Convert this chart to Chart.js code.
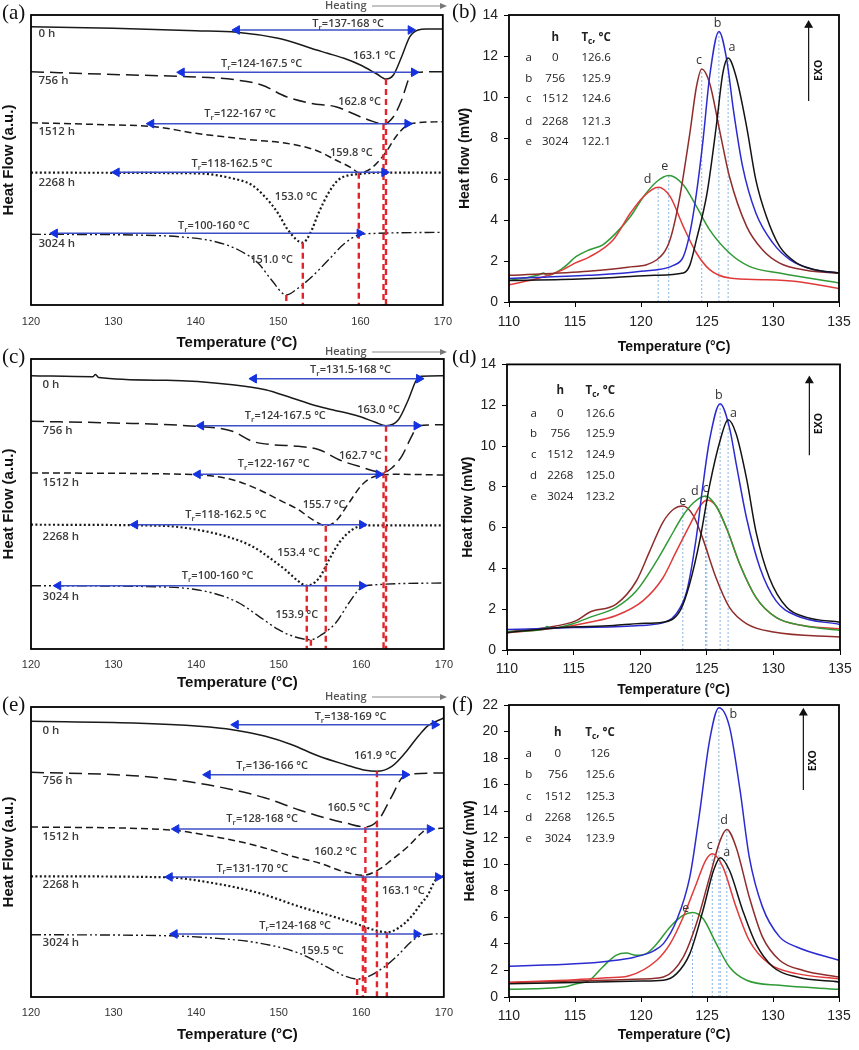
<!DOCTYPE html>
<html>
<head>
<meta charset="utf-8">
<script src="https://cdn.jsdelivr.net/npm/chart.js@4/dist/chart.umd.min.js"></script>
<style>
  html, body { margin: 0; padding: 0; background: #fff; }
  #wrap { position: relative; width: 859px; height: 1050px; overflow: hidden; }
  canvas { position: absolute; }
</style>
</head>
<body>
<div id="wrap">
  <canvas id="pa"></canvas>
  <canvas id="pc"></canvas>
  <canvas id="pe"></canvas>
  <canvas id="pb"></canvas>
  <canvas id="pd"></canvas>
  <canvas id="pf"></canvas>
</div>
<script>
// ── Data ──
const hours = [0, 756, 1512, 2268, 3024];
const letters = ['a', 'b', 'c', 'd', 'e'];
const leftTicksStep = 10;   // 120 .. 170
const rightTicksStep = 5;   // 110 .. 135

// (a) heating curves, heat flow in arbitrary units (offset traces)
const a0h    = [[120,278.3],[130,276.7],[140,274.3],[145,272.7],[150,266.7],[152,262.3],[154,256.7],[156,251.7],[158,246.7],[160,240],[162,231],[163.1,226],[164,230],[165,248.3],[166,268.3],[167,275],[168,276],[170,276]];
const a756h  = [[120,233.3],[130,230.5],[139,228.3],[145,225],[148,220],[151,208.3],[154,201.7],[157,198.3],[159,191.7],[161,185],[162.8,181],[164,188.3],[165,205],[166,228.3],[167,232.7],[170,233.3]];
const a1512h = [[120,182.3],[128,180.5],[135,178.3],[140,171.7],[147,165],[151,161.7],[154.5,155],[157,145],[159,136.7],[159.8,132.3],[161.3,136.7],[163,151.7],[164.3,168.3],[165.7,180],[167,182.3],[170,183.3]];
const a2268h = [[120,132.3],[140,131.7],[144.4,126.7],[146.8,120],[148.4,108.3],[150,91.7],[151.2,75],[153,62.3],[153.9,71.7],[154.9,91.7],[156.1,111.7],[157.3,125],[159.8,131],[163,132.3],[170,132.3]];
const a3024h = [[120,70.7],[132.4,70],[138.8,67.7],[142.4,63.3],[145.2,55],[147.6,41.7],[149.2,25],[151,10],[152.4,16.7],[154.1,28.3],[156.1,45],[158.1,61.7],[159.8,70],[162.2,71.7],[170,72.7]];
const aPeakT = [163.1, 162.8, 159.8, 153.0, 151.0];
const aRange = ['137-168', '124-167.5', '122-167', '118-162.5', '100-160'];

// (c)
const c0h    = [[120,273.3],[127.5,272.3],[127.8,274.5],[128.2,271.5],[136.4,268.7],[144.4,264.3],[148.4,259.3],[151.6,251],[154.1,244.3],[156.5,239.3],[159.7,232.7],[161.7,226.7],[163.0,223.3],[164.5,229.3],[165.7,249.3],[166.7,269.3],[167.3,272.7],[170,273.3]];
const c756h  = [[120,227.7],[130,226],[138.8,223.3],[144.4,217.7],[146.8,207.7],[149.2,204.3],[152.4,202.7],[154.9,199.3],[157.3,189.3],[159.7,182.7],[162.7,176.7],[163.7,181],[164.9,192.7],[166.1,212.7],[166.9,223.3],[170,224.3]];
const c1512h = [[120,176],[138.8,174.7],[144.4,169.3],[147.6,159.3],[150.4,147.7],[152.4,139.3],[154.1,129.3],[155.7,123.3],[156.9,127.7],[158.5,146],[160.1,164.3],[161.7,172.7],[164.5,174.7],[170,174]];
const c2268h = [[120,124.3],[135.6,123.3],[138.8,121],[143.6,112.7],[146.8,102.7],[149.2,89.3],[150.8,79.3],[152.4,67.7],[153.4,63.3],[154.9,71],[156.1,89.3],[157.3,106],[158.9,119.3],[160.5,123.7],[170,123.7]];
const c3024h = [[120,63.3],[136.4,62],[142,56],[145.2,46],[147.6,32.7],[150,19.3],[152,12],[153.9,9.3],[155.2,14.3],[156.9,26],[158.5,46],[159.7,59.3],[160.5,63.3],[170,66]];
const cPeakT = [163.0, 162.7, 155.7, 153.4, 153.9];
const cRange = ['131.5-168', '124-167.5', '122-167', '118-162.5', '100-160'];

// (e)
const e0h    = [[120,275.7],[132.4,274],[140.4,270.7],[144.4,267.3],[148.4,260.7],[151.6,252.3],[154.9,240.7],[158.1,232.3],[160.5,226.7],[161.9,225.7],[163.7,230.7],[165.3,244],[166.9,260.7],[168.1,271.3],[170,279]];
const e756h  = [[120,224.7],[132.4,221.3],[138.8,215.7],[144.4,207.3],[148.4,199],[152.4,187.3],[155.7,179],[158.1,174],[160.5,170],[162.1,177.3],[163.7,200.7],[165.1,220.7],[166.5,223.3],[170,224]];
const e1512h = [[120,170],[136.4,167.3],[142,160.7],[147.6,150.7],[151.6,140.7],[154.9,134],[158.1,124.7],[160.2,121.7],[162.1,127.3],[163.7,137.3],[165.7,150.7],[167.3,164],[168.1,168],[170,168.7]];
const e2268h = [[120,120.7],[136.4,119.7],[142,114],[147.6,104],[152.4,90.7],[156.5,80.7],[159.7,72.3],[161.7,66.7],[163.1,64.7],[164.5,69],[166.1,80.7],[167.3,94],[168,101],[169,117],[170,121]];
const e3024h = [[120,62.3],[136.4,61.3],[142,59],[147.6,54],[152.4,44],[155.7,30.7],[158.1,20.7],[159.5,18],[160.9,20.7],[162.9,30.7],[164.5,42.3],[166.1,55.7],[167.3,61.3],[170,63.5]];
const ePeakT = [161.9, 160.5, 160.2, 163.1, 159.5];
const eRange = ['138-169', '136-166', '128-168', '131-170', '124-168'];

// (b) cooling curves, heat flow in mW
const bA = [[110,1.05],[114,1.1],[118,1.2],[121,1.3],[123.2,1.41],[123.7,1.8],[124.2,3.04],[125,5.3],[125.7,8.56],[126.2,11.16],[126.6,11.9],[127.2,11.0],[128,8.56],[128.7,5.96],[129.5,4.17],[130.5,2.71],[131.8,1.9],[133,1.6],[135,1.41]];
const bB = [[110,1.15],[116,1.3],[120,1.5],[122.5,1.8],[123.2,2.2],[123.7,3.36],[124.2,5.3],[124.7,7.9],[125.2,11.0],[125.9,13.2],[126.5,11.8],[127,9.37],[127.7,6.6],[128.7,4.34],[130,2.87],[131.3,2.06],[133,1.6],[135,1.41]];
const bC = [[110,1.3],[116,1.5],[119,1.7],[121.2,2.06],[122.2,3.04],[122.9,4.99],[123.7,8.23],[124.2,10.5],[124.6,11.37],[125.2,10.67],[126,8.23],[126.7,6.12],[128,3.69],[129.2,2.55],[130.5,1.9],[132.5,1.55],[135,1.4]];
const bD = [[110,0.84],[112.3,1.17],[114.1,1.58],[115,1.9],[116.1,2.2],[117.9,3.04],[119.2,4.34],[120.2,5.15],[121.3,5.6],[122.2,5.15],[123.2,3.69],[124.2,2.39],[125.2,1.58],[126.7,1.17],[129.2,1.09],[131.8,1.0],[135,0.65]];
const bE = [[110,1.05],[112.3,1.33],[112.6,1.42],[112.9,1.3],[114.1,1.66],[115.1,2.22],[116.1,2.55],[117.1,2.79],[118.1,3.36],[119.2,4.17],[120.2,5.15],[121.2,5.88],[122.1,6.17],[123.2,5.72],[124.2,4.66],[125.2,3.52],[126.7,2.39],[128.2,1.74],[130.5,1.41],[135,0.93]];
const bTc = ['126.6', '125.9', '124.6', '121.3', '122.1'];

// (d)
const dA = [[110,0.85],[114,1.1],[118,1.2],[120,1.3],[121.7,1.36],[123,1.93],[123.7,3.21],[124.5,5.46],[125.2,8.03],[126,10.27],[126.6,11.29],[127.2,10.6],[128,8.35],[128.7,5.78],[129.7,3.53],[131,2.09],[132.5,1.6],[135,1.36]];
const dB = [[110,1.0],[115,1.1],[120,1.2],[122,1.4],[122.7,1.77],[123.5,2.89],[124.2,5.46],[124.7,8.03],[125.2,10.27],[126,12.07],[126.7,10.9],[127.2,9.15],[128,6.42],[129,4.01],[130.2,2.41],[131.7,1.69],[135,1.25]];
const dC = [[110,0.9],[112.7,1.0],[113,1.15],[113.3,1.05],[115,1.3],[116.2,1.6],[118.2,2.09],[119.7,2.89],[121.2,4.33],[122.2,5.46],[123.2,6.58],[124,7.22],[124.9,7.55],[125.7,7.06],[126.5,5.94],[127.5,4.17],[128.7,2.57],[130.2,1.6],[132.2,1.2],[135,0.96]];
const dD = [[110,0.85],[114,1.1],[116.2,1.36],[118.2,1.69],[120.2,2.41],[121.7,3.53],[122.7,4.82],[123.7,6.1],[124.5,7.06],[125,7.35],[125.7,7.06],[126.5,5.94],[127.5,4.17],[128.7,2.57],[130.2,1.6],[132.2,1.2],[135,1.04]];
const dE = [[110,0.9],[113,1.1],[115.2,1.44],[116.2,1.85],[118.2,2.25],[119.7,3.37],[120.7,4.82],[121.7,6.26],[122.5,6.9],[123.2,7.06],[124,6.58],[124.7,5.46],[125.7,3.53],[126.7,2.09],[128,1.28],[130,0.88],[135,0.64]];
const dTc = ['126.6', '125.9', '124.9', '125.0', '123.2'];

// (f)
const fA = [[110,1.0],[115,1.1],[120,1.2],[121.7,1.26],[122.7,1.76],[123.7,3.27],[124.7,6.54],[125.5,9.55],[126,10.5],[126.7,9.55],[127.7,6.54],[128.7,4.02],[130,2.26],[131.8,1.5],[135,1.13]];
const fB = [[110,2.31],[115,2.5],[117.5,2.7],[119.5,3.0],[121,3.5],[121.7,4.02],[122.7,5.78],[123.7,9.05],[124.4,13.58],[125.2,19.36],[125.9,21.8],[126.7,20.37],[127.5,15.6],[128.2,10.56],[129.2,6.79],[130.5,4.53],[131.8,3.77],[135,2.77]];
const fC = [[110,1.1],[115,1.3],[117.5,1.45],[119.1,1.6],[121.2,2.77],[122.2,4.0],[123.2,6.03],[124.2,8.55],[124.9,10.3],[125.4,10.8],[126.2,9.8],[127.2,6.79],[128.2,4.27],[129.7,2.51],[131.8,1.76],[135,1.38]];
const fD = [[110,1.1],[115,1.2],[120,1.35],[121.7,1.5],[123.2,3.0],[124.2,5.53],[125.2,9.05],[126,11.8],[126.5,12.62],[127.2,11.3],[128.2,7.54],[129.2,4.53],[130.5,2.77],[132.3,2.0],[135,1.5]];
const fE = [[110,0.58],[114.1,0.75],[115.1,1.0],[116.1,1.26],[117.1,2.26],[118.1,3.14],[118.9,3.32],[119.6,3.14],[120.4,3.27],[121.2,4.02],[122.2,5.28],[123.2,6.16],[123.9,6.36],[124.7,5.91],[125.7,4.02],[126.7,2.26],[128,1.26],[130.5,0.88],[135,0.58]];
const fTc = ['126', '125.6', '125.3', '126.5', '123.9'];

// ── Annotation placement (data units) ──
const aArrow = [[145,166.1,275],[138.3,166.5,232.7],[134.6,165.7,181.3],[130.4,162.9,132.7],[122.9,159.9,71.7]];
const aRangePos = [[158.5,281],[148,240.7],[145.4,191],[144.4,141],[142.2,79]];
const aPeakPos = [[161.7,249],[159.9,203.3],[158.9,151.7],[152.2,108.3],[149.2,45]];
const aNameY = [271.7,224,173,122.3,61];

const cArrow = [[147,167,270.3],[140.6,166.7,223.3],[140.2,162.1,174.7],[132.6,160.1,124.3],[123.3,160.1,63.3]];
const cRangePos = [[158.7,278.7],[150.8,232.7],[149.4,185],[143.6,133.7],[142.6,72.7]];
const cPeakPos = [[162.1,239.3],[159.9,193.3],[155.5,143.7],[152.4,96],[152.2,34.3]];
const cNameY = [264.3,218.3,166,112.7,52.7];

const eArrow = [[144.8,168.9,272.3],[141.4,165.3,222.3],[137.6,168.3,168],[136.8,169.3,120],[137.4,166.7,63]];
const eRangePos = [[158.7,280],[149.2,231.3],[148,178],[146.8,128.3],[152,71.3]];
const ePeakPos = [[161.7,240.7],[158.5,189],[156.9,144.7],[165.1,105.7],[155.3,45.7]];
const eNameY = [266.7,216.7,160.7,112.3,54];

// ── Note font: a narrow sans if present, else Open Sans ──
function hasFont(name) {
  const c = document.createElement('canvas').getContext('2d');
  c.font = '20px monospace';
  const w0 = c.measureText('163.1 abcdefgh').width;
  c.font = `20px "${name}", monospace`;
  return c.measureText('163.1 abcdefgh').width !== w0;
}
const narrow = hasFont('Liberation Sans Narrow');
const noteFamily = narrow ? '"Liberation Sans Narrow"' : '"Open Sans"';
const noteK = narrow ? 1.17 : 1;
const noteWeight = narrow ? '700' : '600';

// ── Plugins ──
function drawRich(ctx, x, y, parts, size, weight, family, color, align, rot) {
  ctx.save();
  ctx.translate(x, y);
  if (rot) ctx.rotate(rot);
  ctx.fillStyle = color;
  ctx.textBaseline = 'middle';
  ctx.textAlign = 'left';
  const fnt = s => `${weight} ${s}px ${family}`;
  let w = 0;
  parts.forEach(p => { ctx.font = fnt(p[1] ? size * 0.72 : size); w += ctx.measureText(p[0]).width; });
  let cx = align === 'left' ? 0 : align === 'right' ? -w : -w / 2;
  parts.forEach(p => {
    const s = p[1] ? size * 0.72 : size;
    ctx.font = fnt(s);
    ctx.fillText(p[0], cx, p[1] ? size * 0.32 : 0);
    cx += ctx.measureText(p[0]).width;
  });
  ctx.restore();
}

const notesPlugin = {
  id: 'notes',
  afterDatasetsDraw(chart, args, opts) {
    const xs = chart.scales.x, ys = chart.scales.y;
    (opts.items || []).forEach(n => {
      drawRich(chart.ctx, xs.getPixelForValue(n.x), ys.getPixelForValue(n.y), n.parts,
        (n.size || 11) * noteK, n.weight || noteWeight, noteFamily, n.color || '#3a3a3a', n.align || 'center', n.rot);
    });
  }
};

const decoPlugin = {
  id: 'deco',
  afterDraw(chart, args, o) {
    const ctx = chart.ctx, a = chart.chartArea;
    ctx.save();
    ctx.strokeStyle = '#000';
    ctx.lineWidth = 1.8;
    ctx.strokeRect(a.left, a.top, a.right - a.left, a.bottom - a.top);
    ctx.fillStyle = '#111';
    ctx.font = '21px "Liberation Serif"';
    ctx.textBaseline = 'middle';
    ctx.textAlign = 'left';
    ctx.fillText(o.letter, o.lx, o.ly);
    if (o.heatY !== undefined) {
      ctx.font = `${noteWeight} ${11 * noteK}px ${noteFamily}`;
      ctx.fillStyle = '#555';
      ctx.fillText('Heating', 325, o.heatY);
      ctx.strokeStyle = '#888';
      ctx.lineWidth = 1;
      ctx.beginPath(); ctx.moveTo(372, o.heatY); ctx.lineTo(441, o.heatY); ctx.stroke();
      ctx.fillStyle = '#777';
      ctx.beginPath(); ctx.moveTo(447, o.heatY); ctx.lineTo(440, o.heatY - 3); ctx.lineTo(440, o.heatY + 3); ctx.closePath(); ctx.fill();
    }
    ctx.restore();
  }
};

const toXY = pts => pts.map(([x, y]) => ({ x, y }));

function panel(id, box, area, o) {
  const cv = document.getElementById(id);
  cv.width = box.w; cv.height = box.h;
  Object.assign(cv.style, { left: box.x + 'px', top: box.y + 'px', width: box.w + 'px', height: box.h + 'px' });
  const bottomH = box.y + box.h - area.bottom;
  const leftW = area.left - box.x;
  return new Chart(cv, {
    type: 'line',
    data: { datasets: o.datasets },
    options: {
      responsive: false, animation: false, devicePixelRatio: 1,
      layout: { padding: { left: 0, top: area.top - box.y, right: box.x + box.w - area.right, bottom: 0 } },
      plugins: { legend: { display: false }, tooltip: { enabled: false }, notes: { items: o.notes }, deco: o.deco },
      scales: {
        x: {
          type: 'linear', min: o.xMin, max: o.xMax,
          ticks: { stepSize: o.xStep, padding: o.xTickPad, color: o.tickColor, font: o.tickFont, maxRotation: 0, autoSkip: false },
          grid: { display: o.ticks, drawOnChartArea: false, drawTicks: o.ticks, tickLength: 5, color: '#000' },
          border: { display: false },
          title: { display: true, text: 'Temperature (°C)', color: '#111', font: o.xTitleFont, padding: { top: 0, bottom: o.xTitlePad } },
          afterFit(s) { s.height = bottomH; }
        },
        y: {
          type: 'linear', min: o.yMin, max: o.yMax,
          ticks: { display: o.ticks, stepSize: o.yStep, padding: 6, color: o.tickColor, font: o.tickFont },
          grid: { display: o.ticks, drawOnChartArea: false, drawTicks: o.ticks, tickLength: 5, color: '#000' },
          border: { display: false },
          title: { display: true, text: o.yTitle, color: '#111', font: o.yTitleFont, padding: { top: o.yTitlePad, bottom: 0 } },
          afterFit(s) { s.width = leftW; }
        }
      }
    },
    plugins: [notesPlugin, decoPlugin]
  });
}

// ── Left (heating) panels ──
const traceDash = [[], [13, 6], [7, 4], [2, 2.4], [10, 3, 2, 3, 2, 3]];
const traceWidth = [1.5, 1.5, 1.5, 2.2, 1.4];

function leftSets(curves, peakT, arrows) {
  const ds = [];
  arrows.forEach(([x1, x2, y]) => ds.push({
    data: [{ x: x1, y }, { x: x2, y }], borderColor: '#3d4fc6', borderWidth: 1.5,
    pointStyle: 'triangle', pointRadius: 5, pointRotation: [-90, 90],
    pointBackgroundColor: '#1432e0', pointBorderColor: '#1432e0', pointBorderWidth: 1, clip: false, order: 0
  }));
  curves.forEach((c, i) => ds.push({
    data: toXY(c), borderColor: '#1a1a1a', borderWidth: traceWidth[i], borderDash: traceDash[i],
    pointRadius: 0, cubicInterpolationMode: 'monotone', order: 2
  }));
  curves.forEach((c, i) => {
    const low = Math.min(...c.map(p => p[1]));
    ds.push({ data: [{ x: peakT[i], y: low }, { x: peakT[i], y: 0 }], borderColor: '#e3242b', borderWidth: 2.4,
      borderDash: [6, 4], pointRadius: 0, order: 1 });
  });
  return ds;
}

function leftNotes(peakT, peakPos, ranges, rangePos, nameX, nameY) {
  const items = [];
  peakT.forEach((t, i) => items.push({ x: peakPos[i][0], y: peakPos[i][1], parts: [[t.toFixed(1) + ' °C']] }));
  ranges.forEach((r, i) => items.push({ x: rangePos[i][0], y: rangePos[i][1], parts: [['T'], ['r', true], ['=' + r + ' °C']] }));
  hours.forEach((h, i) => items.push({ x: nameX, y: nameY[i], parts: [[h + ' h']], align: 'left', size: 11.5 }));
  return items;
}

const leftCommon = {
  xMin: 120, xMax: 170, xStep: leftTicksStep, yMin: 0, yMax: 290, ticks: false,
  tickColor: '#333', tickFont: { family: 'Liberation Sans', size: 11 },
  xTitleFont: { family: 'Liberation Sans', size: 15, weight: 'bold' },
  yTitleFont: { family: 'Liberation Sans', size: 15, weight: 'bold' },
  yTitle: 'Heat Flow (a.u.)', yTitlePad: 0
};

panel('pa', { x: 0, y: 0, w: 462, h: 356 }, { left: 31, top: 15, right: 446, bottom: 305 }, Object.assign({}, leftCommon, {
  xTickPad: 10, xTitlePad: 4,
  datasets: leftSets([a0h, a756h, a1512h, a2268h, a3024h], aPeakT, aArrow),
  notes: leftNotes(aPeakT, aPeakPos, aRange, aRangePos, 120.9, aNameY),
  deco: { letter: '(a)', lx: 2, ly: 13, heatY: 6 }
}));

panel('pc', { x: 0, y: 344, w: 462, h: 353 }, { left: 31, top: 359, right: 446, bottom: 649 }, Object.assign({}, leftCommon, {
  xTickPad: 9, xTitlePad: 5,
  datasets: leftSets([c0h, c756h, c1512h, c2268h, c3024h], cPeakT, cArrow),
  notes: leftNotes(cPeakT, cPeakPos, cRange, cRangePos, 121.4, cNameY),
  deco: { letter: '(c)', lx: 2, ly: 13, heatY: 8 }
}));

panel('pe', { x: 0, y: 688, w: 462, h: 362 }, { left: 31, top: 707, right: 446, bottom: 997 }, Object.assign({}, leftCommon, {
  xTickPad: 9, xTitlePad: 6,
  datasets: leftSets([e0h, e756h, e1512h, e2268h, e3024h], ePeakT, eArrow),
  notes: leftNotes(ePeakT, ePeakPos, eRange, eRangePos, 121.4, eNameY),
  deco: { letter: '(e)', lx: 2, ly: 17, heatY: 9 }
}));

// ── Right (cooling) panels ──
function rightSets(curves, colors, exo) {
  const ds = [];
  curves.forEach((c, i) => ds.push({
    data: toXY(c), borderColor: colors[i], borderWidth: 1.5, pointRadius: 0,
    cubicInterpolationMode: 'monotone', order: 1
  }));
  curves.forEach(c => {
    const pk = c.reduce((m, p) => (p[1] > m[1] ? p : m));
    ds.push({ data: [{ x: pk[0], y: 0 }, { x: pk[0], y: pk[1] }], borderColor: '#8db6e3', borderWidth: 1,
      borderDash: [2, 2], pointRadius: 0, order: 3 });
  });
  ds.push({ data: [{ x: exo[0], y: exo[1] }, { x: exo[0], y: exo[2] }], borderColor: '#111', borderWidth: 1.2,
    pointStyle: 'triangle', pointRadius: [0, 4], pointBackgroundColor: '#111', pointBorderColor: '#111', order: 0 });
  return ds;
}

function rightNotes(tc, tab, peakLbl, exoTxt) {
  const items = [];
  const f = { size: 11.5, weight: '400', color: '#222' };
  items.push({ x: tab.hx, y: tab.head, parts: [['h']], weight: '700', size: 11.5, color: '#222' });
  items.push({ x: tab.tx, y: tab.head, parts: [['T'], ['c', true], [', °C']], weight: '700', size: 11.5, color: '#222' });
  letters.forEach((l, i) => {
    items.push(Object.assign({ x: tab.lx, y: tab.rows[i], parts: [[l]] }, f));
    items.push(Object.assign({ x: tab.hx, y: tab.rows[i], parts: [[String(hours[i])]] }, f));
    items.push(Object.assign({ x: tab.tx, y: tab.rows[i], parts: [[tc[i]]] }, f));
    items.push({ x: peakLbl[i][0], y: peakLbl[i][1], parts: [[l]], size: 12.5, weight: '400', color: '#333' });
  });
  items.push({ x: exoTxt[0], y: exoTxt[1], parts: [['EXO']], size: 10.5, weight: '700', color: '#111', rot: -Math.PI / 2 });
  return items;
}

const rightCommon = {
  xMin: 110, xMax: 135, xStep: rightTicksStep, yMin: 0, yStep: 2, ticks: true,
  tickColor: '#222', tickFont: { family: 'Liberation Sans', size: 14 },
  xTitleFont: { family: 'Liberation Sans', size: 14, weight: 'bold' },
  yTitleFont: { family: 'Liberation Sans', size: 14, weight: 'bold' },
  yTitle: 'Heat flow (mW)'
};

panel('pb', { x: 447, y: 0, w: 412, h: 360 }, { left: 509, top: 15, right: 839, bottom: 302 }, Object.assign({}, rightCommon, {
  yMax: 14, xTickPad: 7, xTitlePad: 4.6, yTitlePad: 9.6,
  datasets: rightSets([bA, bB, bC, bD, bE], ['#141414', '#2b2bd0', '#8f2c2c', '#e03a3a', '#2f9a36'], [132.7, 9.8, 13.5]),
  notes: rightNotes(bTc, { head: 12.9, rows: [11.9, 10.9, 9.9, 8.8, 7.8], lx: 111.5, hx: 113.5, tx: 116.6 },
    [[126.9, 12.4], [125.8, 13.6], [124.4, 11.8], [120.5, 6.0], [121.8, 6.6]], [133.5, 11.3]),
  deco: { letter: '(b)', lx: 5, ly: 12 }
}));

panel('pd', { x: 447, y: 350, w: 412, h: 352 }, { left: 507, top: 359, right: 840, bottom: 650 }, Object.assign({}, rightCommon, {
  yMax: 14, xTickPad: 6, xTitlePad: 3.6, yTitlePad: 12.6,
  datasets: rightSets([dA, dB, dC, dD, dE], ['#141414', '#2b2bd0', '#2f9a36', '#e03a3a', '#8f2c2c'], [132.7, 9.55, 13.2]),
  notes: rightNotes(dTc, { head: 12.7, rows: [11.6, 10.6, 9.58, 8.54, 7.51], lx: 112, hx: 114, tx: 117 },
    [[127.0, 11.6], [125.9, 12.5], [124.9, 7.9], [124.1, 7.75], [123.2, 7.3]], [133.4, 11.1]),
  deco: { letter: '(d)', lx: 5, ly: 7 }
}));

panel('pf', { x: 447, y: 690, w: 412, h: 360 }, { left: 509, top: 705, right: 839, bottom: 997 }, Object.assign({}, rightCommon, {
  yMax: 22, xTickPad: 6, xTitlePad: 6.6, yTitlePad: 14.6,
  datasets: rightSets([fA, fB, fC, fD, fE], ['#141414', '#2b2bd0', '#e03a3a', '#8f2c2c', '#2f9a36'], [132.3, 15.6, 21.4]),
  notes: rightNotes(fTc, { head: 19.9, rows: [18.35, 16.75, 15.1, 13.5, 11.9], lx: 111.5, hx: 113.7, tx: 116.9 },
    [[126.5, 10.9], [127.0, 21.3], [125.2, 11.4], [126.3, 13.3], [123.4, 6.65]], [133.0, 17.8]),
  deco: { letter: '(f)', lx: 5, ly: 15 }
}));
</script>
</body>
</html>
